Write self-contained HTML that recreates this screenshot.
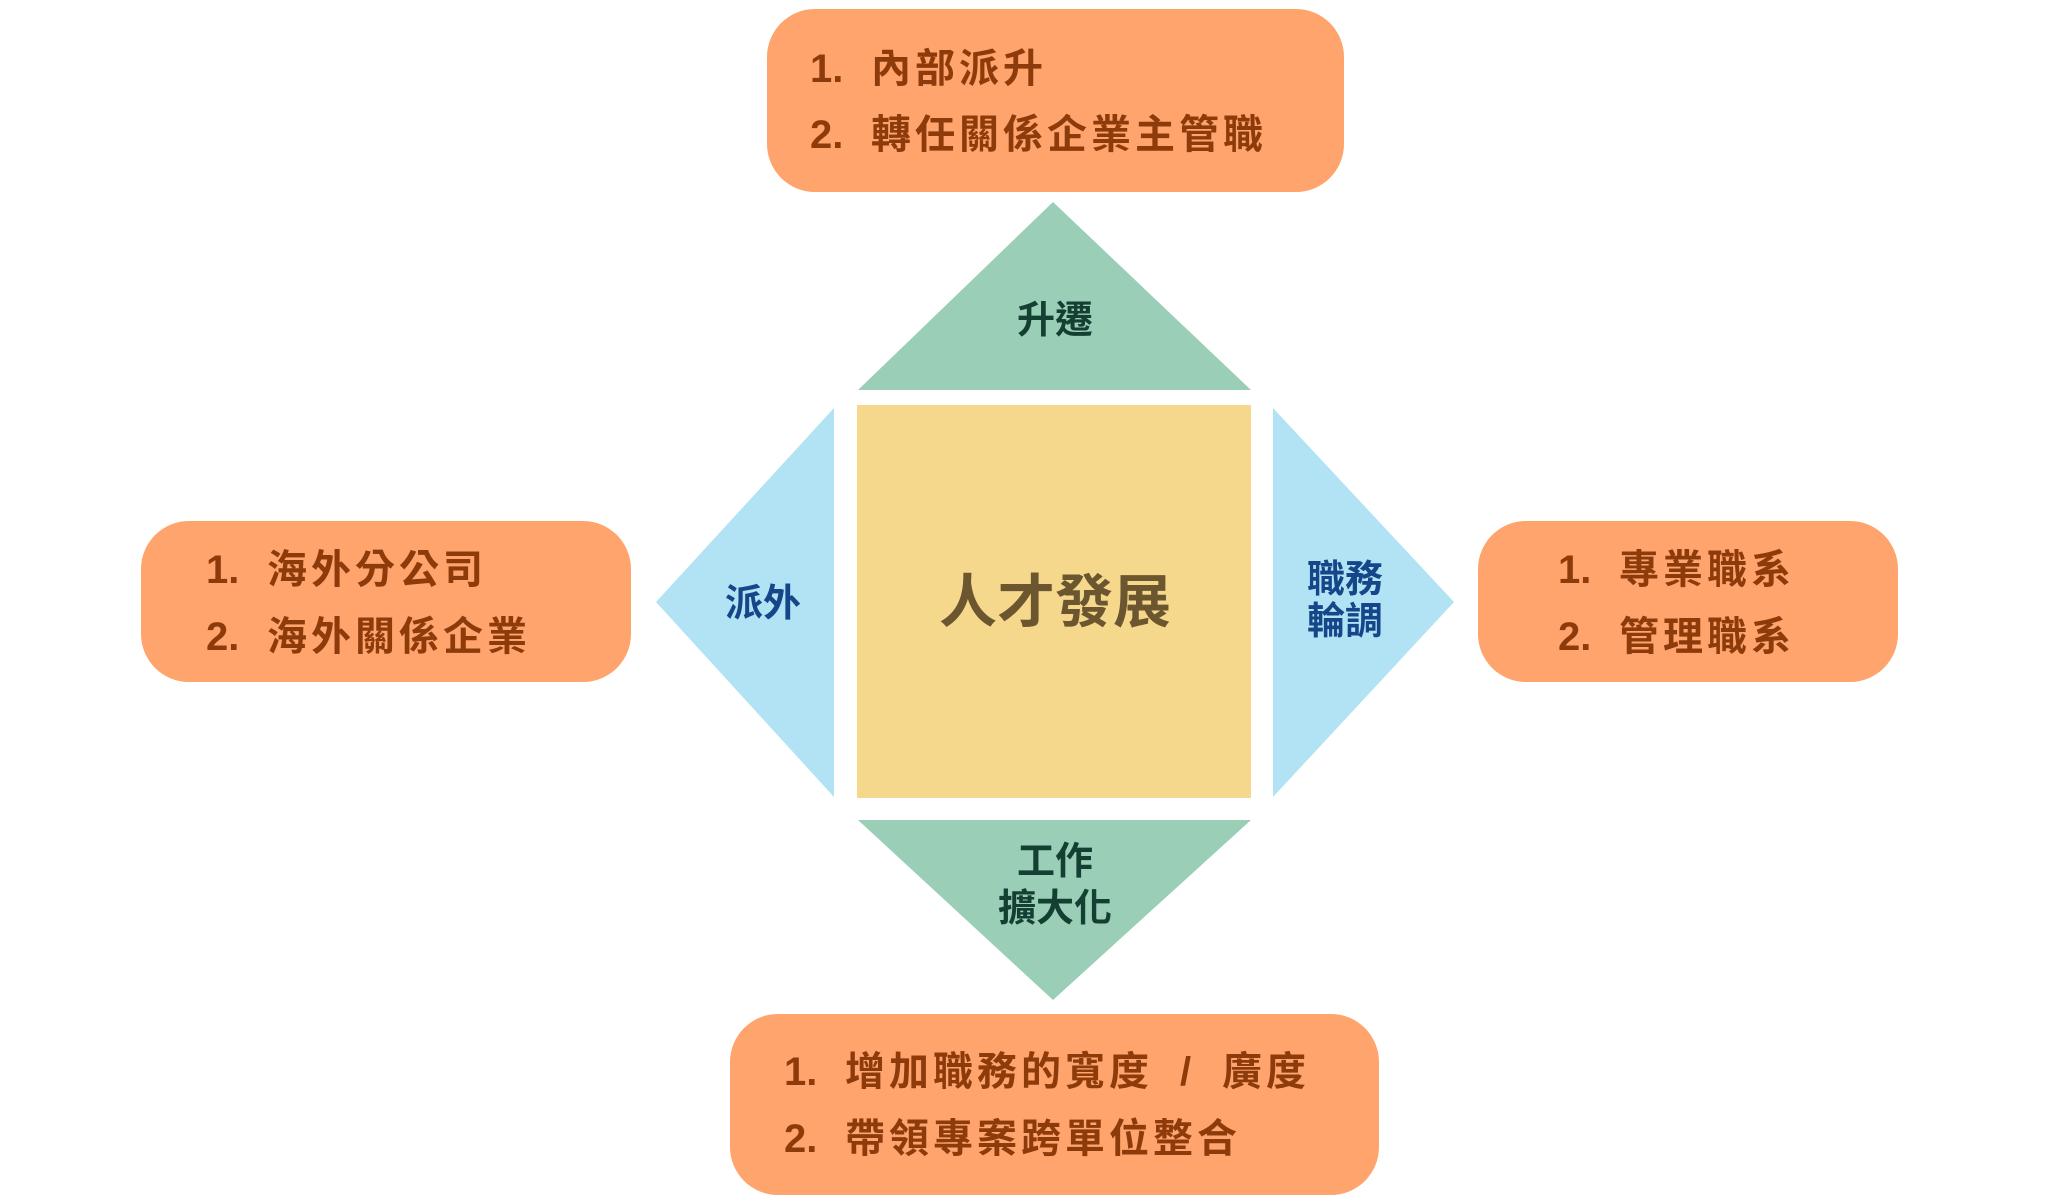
<!DOCTYPE html>
<html><head><meta charset="utf-8"><style>
html,body{margin:0;padding:0;background:#fff;}
svg{display:block}
text{font-family:"Liberation Sans","Noto Sans CJK TC",sans-serif;font-weight:bold;}
</style></head><body>
<svg width="2068" height="1203" viewBox="0 0 2068 1203" xmlns="http://www.w3.org/2000/svg">
<rect width="2068" height="1203" fill="#fff"/>
<g fill="#FFA46C">
<rect x="767" y="9" width="577" height="183" rx="48"/>
<rect x="141" y="521" width="490" height="161" rx="48"/>
<rect x="1478" y="521" width="420" height="161" rx="48"/>
<rect x="730" y="1014" width="649" height="181" rx="48"/>
</g>
<rect x="857" y="405" width="394" height="393" fill="#F5D88B"/>
<polygon points="1053,202 1251,390 858,390" fill="#9BCEB7"/>
<polygon points="858,820 1251,820 1053,1000" fill="#9BCEB7"/>
<polygon points="834,408 834,797 656,602" fill="#B1E3F4"/>
<polygon points="1273,408 1273,797 1454,602" fill="#B1E3F4"/>
<g fill="#8E3B0C" font-size="40">
<text x="810" y="82">1.<tspan x="871" letter-spacing="4">內部派升</tspan></text>
<text x="810" y="148">2.<tspan x="871" letter-spacing="4">轉任關係企業主管職</tspan></text>
<text x="206" y="583">1.<tspan x="267" letter-spacing="4">海外分公司</tspan></text>
<text x="206" y="650">2.<tspan x="267" letter-spacing="4">海外關係企業</tspan></text>
<text x="1558" y="583">1.<tspan x="1619" letter-spacing="4">專業職系</tspan></text>
<text x="1558" y="650">2.<tspan x="1619" letter-spacing="4">管理職系</tspan></text>
<text x="784" y="1085">1.<tspan x="845" letter-spacing="4">增加職務的寬度</tspan><tspan x="1180">/</tspan><tspan x="1222" letter-spacing="4">廣度</tspan></text>
<text x="784" y="1152">2.<tspan x="845" letter-spacing="4">帶領專案跨單位整合</tspan></text>
</g>
<text x="1055" y="622" font-size="58" fill="#6B5630" text-anchor="middle">人才發展</text>
<g fill="#143F33" font-size="38" text-anchor="middle">
<text x="1055" y="333">升遷</text>
<text x="1055" y="874">工作</text>
<text x="1055" y="921">擴大化</text>
</g>
<g fill="#16468A" font-size="38" text-anchor="middle">
<text x="763" y="616">派外</text>
<text x="1345" y="592">職務</text>
<text x="1345" y="634">輪調</text>
</g>
</svg>
</body></html>
